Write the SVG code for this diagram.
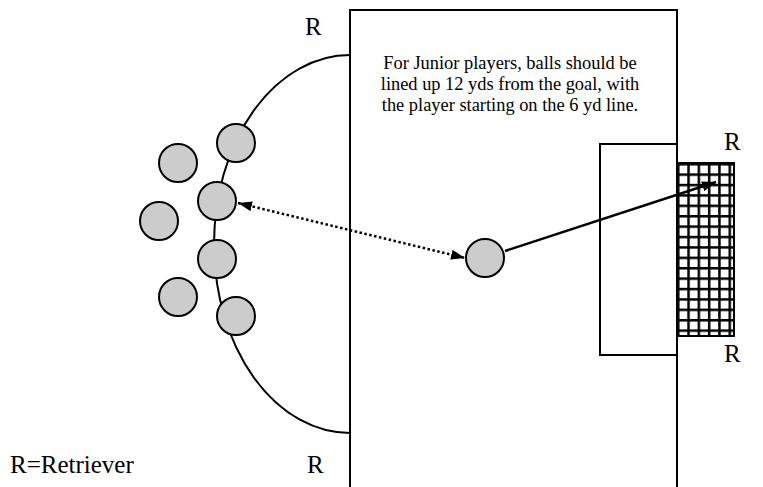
<svg xmlns="http://www.w3.org/2000/svg" width="763" height="487" viewBox="0 0 763 487">
<style>
  .ln{fill:none;stroke:#000;stroke-width:2}
  .ball{fill:#cccccc;stroke:#000;stroke-width:2}
  text{font-family:"Liberation Serif","Times New Roman","DejaVu Serif",serif;fill:#000}
  .r{font-size:25px}
  .note{font-size:18.4px;text-anchor:middle}
</style>
<defs>
  <marker id="ah" viewBox="0 0 14 10" refX="14" refY="5" markerWidth="14" markerHeight="10" markerUnits="userSpaceOnUse" orient="auto-start-reverse">
    <path d="M0,0 L14,5 L0,10 Z" fill="#000"/>
  </marker>
  <pattern id="net" x="677" y="163" width="10.3" height="10.4" patternUnits="userSpaceOnUse">
    <rect width="10.3" height="10.4" fill="#fff"/>
    <rect x="0" y="0" width="10.3" height="2.5" fill="#000"/>
    <rect x="0" y="0" width="2.5" height="10.4" fill="#000"/>
  </pattern>
</defs>
<rect width="763" height="487" fill="#fff"/>
<g id="field">
  <path class="ln" d="M350,500 V10 H677 V500"/>
</g>
<g id="arc">
  <path class="ln" d="M350,55 A136,189 0 0 0 350,433"/>
</g>
<g id="six-yard-box">
  <rect class="ln" x="600" y="144" width="77" height="211"/>
</g>
<g id="goal">
  <rect x="677" y="163" width="57" height="173" fill="url(#net)" stroke="#000" stroke-width="2"/>
</g>
<g id="balls">
  <circle class="ball" cx="236" cy="143" r="19"/>
  <circle class="ball" cx="217" cy="201" r="19"/>
  <circle class="ball" cx="217" cy="259" r="19"/>
  <circle class="ball" cx="236" cy="316" r="19"/>
  <circle class="ball" cx="178" cy="163" r="19"/>
  <circle class="ball" cx="159" cy="221" r="19"/>
  <circle class="ball" cx="178" cy="297" r="19"/>
</g>
<g id="player">
  <circle class="ball" cx="485" cy="258" r="19"/>
</g>
<g id="connectors">
  <line x1="238" y1="203" x2="465" y2="258" stroke="#000" stroke-width="2.5" stroke-dasharray="2.5 2.5" marker-start="url(#ah)" marker-end="url(#ah)"/>
  <line x1="505" y1="251" x2="716" y2="182" stroke="#000" stroke-width="2.5" marker-end="url(#ah)"/>
</g>
<g id="labels">
  <text class="r" x="305" y="35">R</text>
  <text class="r" x="724" y="150">R</text>
  <text class="r" x="724" y="362">R</text>
  <text class="r" x="307" y="473">R</text>
  <text class="r" x="10" y="473">R=Retriever</text>
  <text class="note" x="510" y="69">For Junior players, balls should be</text>
  <text class="note" x="510" y="90">lined up 12 yds from the goal, with</text>
  <text class="note" x="510" y="111">the player starting on the 6 yd line.</text>
</g>
</svg>
